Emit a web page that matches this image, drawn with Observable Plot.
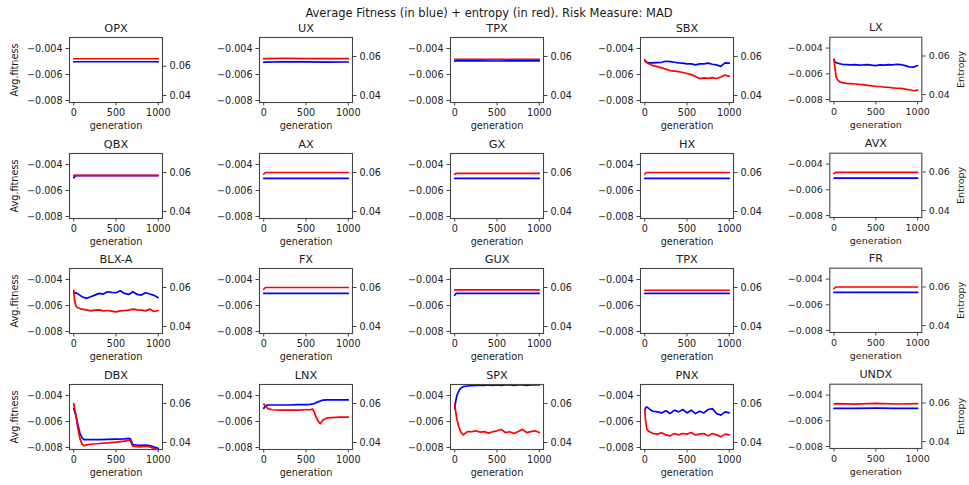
<!DOCTYPE html>
<html><head><meta charset="utf-8">
<script src="https://cdn.jsdelivr.net/npm/d3@7"></script>
<script src="https://cdn.jsdelivr.net/npm/@observablehq/plot@0.6"></script>
<style>
body{margin:0;background:#fff;}
#chart{position:relative;width:969px;height:485px;font-family:"DejaVu Sans",sans-serif;color:#1a1a1a;overflow:hidden;}
#title{position:absolute;left:0;width:978px;top:6px;text-align:center;font-size:11.5px;}
.panel{position:absolute;}
</style></head><body>
<div id="chart"><div id="title">Average Fitness (in blue) + entropy (in red). Risk Measure: MAD</div></div>
<script>
// ---------- data ----------
const titles = ["OPX","UX","TPX","SBX","LX","QBX","AX","GX","HX","AVX","BLX-A","FX","GUX","TPX","FR","DBX","LNX","SPX","PNX","UNDX"];
const gens = [0,10,25,50,75,100,150,200,250,300,350,400,450,500,550,600,650,700,750,800,850,900,950,1000];
const gensFlat = [0,20,250,500,750,1000];
const gensDBX = [0,25,50,75,100,125,150,200,300,400,500,600,650,670,690,700,750,800,850,900,950,1000];
const gensLNX = [0,25,50,100,200,300,400,500,550,580,600,620,650,670,700,750,800,900,1000];
const fitnessTicks = [-0.008,-0.006,-0.004];
const entropyTicks = [0.04,0.06];
const generationTicks = [0,500,1000];
const fitnessDomain = [-0.008154,-0.003154];
const entropyDomainStd = [0.03641,0.069744];
const entropyDomainOPX = [0.03522,0.07959];

const fitOPX = [-0.00502,-0.00502,-0.00502,-0.00502,-0.00502,-0.00502];
const entOPX = [0.0651,0.0651,0.0651,0.0651,0.0651,0.0651];
const fitUX = [-0.00506,-0.00505,-0.00502,-0.00503,-0.00505,-0.00504];
const entUX = [0.0589,0.0589,0.0590,0.0589,0.0589,0.0589];
const fitTPX1 = [-0.00497,-0.00495,-0.00495,-0.00496,-0.00495,-0.00495];
const entTPX1 = [0.0586,0.0586,0.0586,0.0586,0.0586,0.0586];
const fitSBX = [-0.00488,-0.00498,-0.00506,-0.00511,-0.00511,-0.00511,-0.00508,-0.00506,-0.00498,-0.00501,-0.00506,-0.00511,-0.00513,-0.00518,-0.00518,-0.00526,-0.00518,-0.00518,-0.00513,-0.00521,-0.00526,-0.00538,-0.00511,-0.00513];
const entSBX = [0.0583,0.0575,0.0568,0.0563,0.0558,0.0553,0.0548,0.0542,0.0535,0.0528,0.0525,0.0522,0.0518,0.0513,0.0507,0.0497,0.0487,0.049,0.0488,0.0492,0.0487,0.0495,0.0505,0.0498];
const fitLX = [-0.00488,-0.00506,-0.00513,-0.00518,-0.00523,-0.00526,-0.00528,-0.00531,-0.00528,-0.00533,-0.00531,-0.00528,-0.00533,-0.00536,-0.00531,-0.00533,-0.00528,-0.00531,-0.00526,-0.00528,-0.00536,-0.00546,-0.00548,-0.00536];
const entLX = [0.0583,0.0542,0.0492,0.0472,0.0465,0.0462,0.0458,0.0457,0.0455,0.0453,0.0452,0.0448,0.0445,0.0443,0.0442,0.0438,0.0438,0.0435,0.0433,0.0432,0.0428,0.0425,0.042,0.0423];

const fitQBX = [-0.00503,-0.00486,-0.00485,-0.00485,-0.00485,-0.00485];
const entQBX = [0.0585,0.0585,0.0585,0.0585,0.0585,0.0585];
const fitAX = [-0.00506,-0.00506,-0.00506,-0.00506,-0.00506,-0.00506];
const entAX = [0.0591,0.0600,0.0600,0.0600,0.0600,0.0600];
const fitGX = [-0.00506,-0.00506,-0.00506,-0.00506,-0.00506,-0.00506];
const entGX = [0.0591,0.0596,0.0596,0.0596,0.0596,0.0596];
const fitHX = [-0.00506,-0.00506,-0.00506,-0.00506,-0.00506,-0.00506];
const entHX = [0.0591,0.0600,0.0600,0.0600,0.0600,0.0600];
const fitAVX = [-0.00509,-0.00509,-0.00509,-0.00509,-0.00509,-0.00509];
const entAVX = [0.0592,0.0598,0.0598,0.0598,0.0598,0.0598];

const fitBLXA = [-0.00502,-0.00507,-0.00502,-0.00512,-0.00522,-0.00533,-0.00545,-0.00533,-0.0052,-0.00507,-0.00512,-0.00494,-0.00499,-0.00502,-0.00487,-0.00507,-0.00515,-0.00494,-0.00515,-0.0052,-0.00502,-0.00512,-0.00522,-0.0054];
const entBLXA = [0.0585,0.0537,0.0506,0.0496,0.0492,0.0489,0.0485,0.048,0.0484,0.0485,0.048,0.0482,0.0479,0.0475,0.048,0.0482,0.0484,0.0489,0.0485,0.0484,0.048,0.0489,0.0477,0.0482];
const fitFX = [-0.00506,-0.00506,-0.00506,-0.00506,-0.00506,-0.00506];
const entFX = [0.0591,0.0600,0.0600,0.0600,0.0600,0.0600];
const fitGUX = [-0.0052,-0.00506,-0.00506,-0.00506,-0.00506,-0.00506];
const entGUX = [0.0588,0.0588,0.0588,0.0588,0.0588,0.0588];
const fitTPX3 = [-0.00506,-0.00506,-0.00506,-0.00506,-0.00506,-0.00506];
const entTPX3 = [0.0586,0.0586,0.0586,0.0586,0.0586,0.0586];
const fitFR = [-0.00503,-0.00503,-0.00503,-0.00503,-0.00503,-0.00503];
const entFR = [0.0591,0.0600,0.0600,0.0600,0.0600,0.0600];

const fitDBX = [-0.00501,-0.00551,-0.00627,-0.00695,-0.00728,-0.0074,-0.0074,-0.0074,-0.0074,-0.00738,-0.00735,-0.00733,-0.0073,-0.00733,-0.00765,-0.00778,-0.00781,-0.00783,-0.00781,-0.00786,-0.00796,-0.00806];
const entDBX = [0.06,0.0539,0.047,0.0417,0.0391,0.0383,0.0388,0.0391,0.0395,0.0398,0.0402,0.0407,0.0412,0.0409,0.0388,0.0381,0.0379,0.0377,0.0381,0.0377,0.037,0.0363];
const fitLNX = [-0.00499,-0.00478,-0.00473,-0.00473,-0.00473,-0.00473,-0.0047,-0.0047,-0.00468,-0.00465,-0.00462,-0.00455,-0.00447,-0.00442,-0.00436,-0.00434,-0.00434,-0.00434,-0.00434];
const entLNX = [0.0597,0.0585,0.0574,0.0568,0.0566,0.0566,0.0566,0.0568,0.0569,0.0571,0.0554,0.0528,0.0506,0.0497,0.0515,0.0526,0.0528,0.053,0.053];
const fitSPX = [-0.00501,-0.0045,-0.004,-0.00362,-0.00342,-0.00332,-0.00327,-0.00324,-0.00322,-0.00322,-0.00322,-0.00319,-0.00322,-0.00319,-0.00322,-0.00319,-0.00319,-0.00322,-0.00319,-0.00319,-0.00322,-0.00319,-0.00319,-0.00319];
const entSPX = [0.06,0.0562,0.052,0.0477,0.0451,0.0439,0.0456,0.0455,0.046,0.0453,0.0456,0.0448,0.0455,0.046,0.0467,0.0451,0.0455,0.0446,0.0456,0.0467,0.0451,0.0456,0.046,0.0451];
const fitPNX = [-0.00513,-0.00496,-0.00488,-0.00501,-0.00513,-0.00521,-0.00526,-0.00534,-0.00518,-0.00539,-0.00513,-0.00526,-0.00508,-0.00534,-0.00513,-0.00539,-0.00521,-0.00534,-0.00508,-0.00501,-0.00539,-0.00551,-0.00526,-0.00534];
const entPNX = [0.0566,0.0511,0.0468,0.0456,0.0451,0.0446,0.0443,0.045,0.0439,0.0434,0.0446,0.0439,0.0446,0.0443,0.0451,0.0439,0.0443,0.0446,0.0434,0.0446,0.0439,0.0429,0.0443,0.0439];
const fitUNDX = [-0.00503,-0.00504,-0.00503,-0.00502,-0.00503,-0.00503];
const entUNDX = [0.0595,0.0597,0.0594,0.0598,0.0595,0.0597];

const panelGens = [gensFlat,gensFlat,gensFlat,gens,gens, gensFlat,gensFlat,gensFlat,gensFlat,gensFlat, gens,gensFlat,gensFlat,gensFlat,gensFlat, gensDBX,gensLNX,gens,gens,gensFlat];
const panelFit = [fitOPX,fitUX,fitTPX1,fitSBX,fitLX, fitQBX,fitAX,fitGX,fitHX,fitAVX, fitBLXA,fitFX,fitGUX,fitTPX3,fitFR, fitDBX,fitLNX,fitSPX,fitPNX,fitUNDX];
const panelEnt = [entOPX,entUX,entTPX1,entSBX,entLX, entQBX,entAX,entGX,entHX,entAVX, entBLXA,entFX,entGUX,entTPX3,entFR, entDBX,entLNX,entSPX,entPNX,entUNDX];

// ---------- layout ----------
const FW = 93, FH = 65;
const ML = 62, MR = 48, MT = 26, MB = 34;
const colLeft = c => 69 + c * 190.3;
const rowTop = r => 37 + r * 115.7;
const chart = document.getElementById("chart");
const fmtFit = d3.format(".3f");
const fmtEnt = d3.format(".2f");
const fmtGen = d3.format("d");

titles.forEach((title, i) => {
  const r = Math.floor(i / 5), c = i % 5;
  const entDomain = i === 0 ? entropyDomainOPX : entropyDomainStd;
  const toLeft = d3.scaleLinear().domain(entDomain).range(fitnessDomain);
  const g = panelGens[i];
  const fitData = g.map((x, k) => ({g: x, v: panelFit[i][k]}));
  const entData = g.map((x, k) => ({g: x, v: toLeft(panelEnt[i][k])}));
  const marks = [
    Plot.line(fitData, {x: "g", y: "v", stroke: "#0000ff", strokeWidth: 1.7}),
    Plot.line(entData, {x: "g", y: "v", stroke: "#ff0000", strokeWidth: 1.7}),
    Plot.frame({stroke: "#444", strokeWidth: 1.1}),
    Plot.axisX({ticks: generationTicks, tickSize: 3.5, tickPadding: 3.5, tickFormat: fmtGen, label: null, stroke: "#444", fill: "#1a1a1a"}),
    Plot.axisY({ticks: fitnessTicks, tickSize: 3.5, tickPadding: 3.5, tickFormat: fmtFit, label: null, stroke: "#444", fill: "#1a1a1a"}),
    Plot.axisY({anchor: "right", ticks: entropyTicks.map(toLeft), tickSize: 3.5, tickPadding: 3.5, tickFormat: v => fmtEnt(toLeft.invert(v)), label: null, stroke: "#444", fill: "#1a1a1a"}),
    Plot.text([title], {frameAnchor: "top", dy: -6, lineAnchor: "bottom", fontSize: 11.3, fill: "#1a1a1a"}),
    Plot.text(["generation"], {frameAnchor: "bottom", dy: 19.5, lineAnchor: "top", fontSize: 9.7, fill: "#1a1a1a"})
  ];
  if (c === 0) marks.push(Plot.text(["Avg.fitness"], {frameAnchor: "left", dx: -54.5, rotate: -90, lineAnchor: "middle", textAnchor: "middle", fontSize: 9.7, fill: "#1a1a1a"}));
  if (c === 4) marks.push(Plot.text(["Entropy"], {frameAnchor: "right", dx: 39.5, rotate: -90, lineAnchor: "middle", textAnchor: "middle", fontSize: 9.7, fill: "#1a1a1a"}));
  const svg = Plot.plot({
    width: ML + FW + MR,
    height: MT + FH + MB,
    marginLeft: ML, marginRight: MR, marginTop: MT, marginBottom: MB,
    x: {domain: [-50, 1050]},
    y: {domain: fitnessDomain},
    style: {background: "transparent", overflow: "visible", fontFamily: "DejaVu Sans", fontSize: "9.6px", color: "#1a1a1a"},
    marks
  });
  const div = document.createElement("div");
  div.className = "panel";
  div.style.left = (colLeft(c) - ML) + "px";
  div.style.top = (rowTop(r) - MT) + "px";
  div.appendChild(svg);
  chart.appendChild(div);
});
</script>
</body></html>
